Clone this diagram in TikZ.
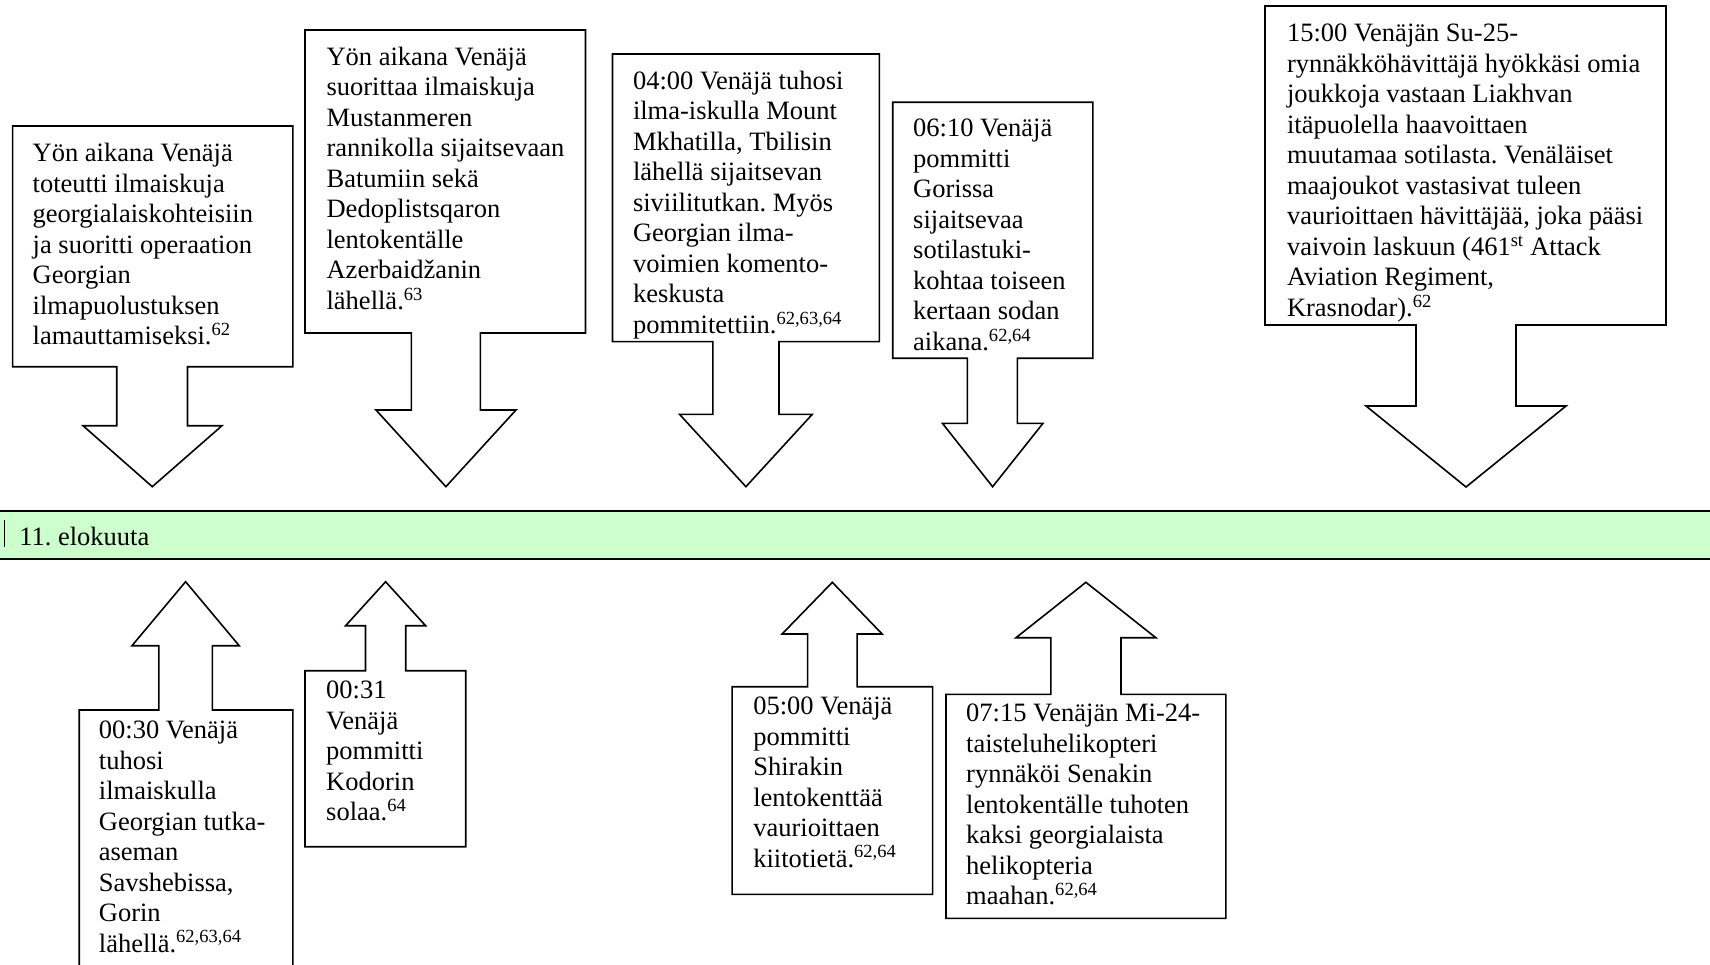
\documentclass[tikz,border=0pt]{standalone}
\usepackage{fontspec}
\setmainfont{Liberation Serif}
\frenchspacing
\definecolor{barfill}{HTML}{CCFFCC}
\newcommand{\fstrut}{\rule{0pt}{25pt}}
\newcommand{\sups}[1]{\textsuperscript{#1}}
\newcommand{\boxfont}{\fontsize{26.5}{30.5}\selectfont\lineskiplimit=-50pt\relax}
\tikzset{
  callout/.style={draw=black, line width=1.6pt, fill=white, line join=miter},
  txt/.style={anchor=north west, inner sep=0pt, align=left, font=\boxfont},
}
\begin{document}
\begin{tikzpicture}[x=1pt,y=-1pt]
\useasboundingbox (0,0) rectangle (1710,965);
\fill[white] (0,0) rectangle (1710,965);

% timeline bar
\fill[barfill] (0,510.7) rectangle (1710,559);
\draw[line width=2.4pt] (0,510.7) -- (1710,510.7);
\draw[line width=2.4pt] (0,559) -- (1710,559);
\draw[line width=1.4pt] (4.6,520) -- (4.6,547);
\node[txt] (bar) at (19.1,520.7) {\fstrut 11. elokuuta};

% down callouts
\draw[callout] (12.6,126) -- (292.8,126) -- (292.8,366.7) -- (187.5,366.7) -- (187.5,425.7) -- (222,425.7) -- (152.3,486.7) -- (83,425.7) -- (116.7,425.7) -- (116.7,366.7) -- (12.6,366.7) -- cycle;
\draw[callout] (305,30) -- (585.5,30) -- (585.5,333) -- (480.3,333) -- (480.3,410) -- (516,410) -- (445.9,486.7) -- (376,410) -- (411.4,410) -- (411.4,333) -- (305,333) -- cycle;
\draw[callout] (612.5,54) -- (879.3,54) -- (879.3,341.7) -- (779,341.7) -- (779,414.3) -- (812.3,414.3) -- (745.9,486.7) -- (679.5,414.3) -- (712.8,414.3) -- (712.8,341.7) -- (612.5,341.7) -- cycle;
\draw[callout] (892.7,102.3) -- (1092.8,102.3) -- (1092.8,358.3) -- (1017.4,358.3) -- (1017.4,423.3) -- (1043,423.3) -- (992.6,486.7) -- (942.4,423.3) -- (967.3,423.3) -- (967.3,358.3) -- (892.7,358.3) -- cycle;
\draw[callout] (1265,6) -- (1666,6) -- (1666,325) -- (1516,325) -- (1516,406) -- (1566,406) -- (1466,487) -- (1366,406) -- (1416,406) -- (1416,325) -- (1265,325) -- cycle;

% up callouts
\draw[callout] (79.2,965) -- (79.2,710) -- (158.8,710) -- (158.8,645.7) -- (132,645.7) -- (185.6,581.7) -- (239.2,645.7) -- (212.4,645.7) -- (212.4,710) -- (292.8,710) -- (292.8,965);
\draw[callout] (305,670.7) -- (365.5,670.7) -- (365.5,625.7) -- (345.6,625.7) -- (385.6,581.7) -- (425.6,625.7) -- (405.7,625.7) -- (405.7,670.7) -- (465.7,670.7) -- (465.7,846.7) -- (305,846.7) -- cycle;
\draw[callout] (732.1,686.7) -- (807.6,686.7) -- (807.6,634) -- (782.1,634) -- (832.3,582.3) -- (882.1,634) -- (857.1,634) -- (857.1,686.7) -- (932.6,686.7) -- (932.6,894.3) -- (732.1,894.3) -- cycle;
\draw[callout] (946,694.3) -- (1050.9,694.3) -- (1050.9,637.7) -- (1016,637.7) -- (1085.9,582.3) -- (1155.8,637.7) -- (1121,637.7) -- (1121,694.3) -- (1225.9,694.3) -- (1225.9,918.3) -- (946,918.3) -- cycle;

% texts
\node[txt] (tA) at (32.5,136.7) {\fstrut Yön aikana Venäjä\\toteutti ilmaiskuja\\georgialaiskohteisiin\\ja suoritti operaation\\Georgian\\ilmapuolustuksen\\lamauttamiseksi.\sups{62}};
\node[txt] (tB) at (326.4,40) {\fstrut Yön aikana Venäjä\\suorittaa ilmaiskuja\\Mustanmeren\\rannikolla sijaitsevaan\\Batumiin sekä\\Dedoplistsqaron\\lentokentälle\\Azerbaidžanin\\lähellä.\sups{63}};
\node[txt] (tC) at (632.8,64.3) {\fstrut 04:00 Venäjä tuhosi\\ilma-iskulla Mount\\Mkhatilla, Tbilisin\\lähellä sijaitsevan\\siviilitutkan. Myös\\Georgian ilma-\\voimien komento-\\keskusta\\pommitettiin.\sups{62,63,64}};
\node[txt] (tD) at (913,111.7) {\fstrut 06:10 Venäjä\\pommitti\\Gorissa\\sijaitsevaa\\sotilastuki-\\kohtaa toiseen\\kertaan sodan\\aikana.\sups{62,64}};
\node[txt] (tE) at (1286.8,16.7) {\fstrut 15:00 Venäjän Su-25-\\rynnäkköhävittäjä hyökkäsi omia\\joukkoja vastaan Liakhvan\\itäpuolella haavoittaen\\muutamaa sotilasta. Venäläiset\\maajoukot vastasivat tuleen\\vaurioittaen hävittäjää, joka pääsi\\vaivoin laskuun (461\sups{st} Attack\\Aviation Regiment,\\Krasnodar).\sups{62}};
\node[txt] (tF) at (98.7,713.3) {\fstrut 00:30 Venäjä\\tuhosi\\ilmaiskulla\\Georgian tutka-\\aseman\\Savshebissa,\\Gorin\\lähellä.\sups{62,63,64}};
\node[txt] (tG) at (326,673.3) {\fstrut 00:31\\Venäjä\\pommitti\\Kodorin\\solaa.\sups{64}};
\node[txt] (tH) at (753.1,689.3) {\fstrut 05:00 Venäjä\\pommitti\\Shirakin\\lentokenttää\\vaurioittaen\\kiitotietä.\sups{62,64}};
\node[txt] (tI) at (966,696.7) {\fstrut 07:15 Venäjän Mi-24-\\taisteluhelikopteri\\rynnäköi Senakin\\lentokentälle tuhoten\\kaksi georgialaista\\helikopteria\\maahan.\sups{62,64}};
\end{tikzpicture}
\end{document}
